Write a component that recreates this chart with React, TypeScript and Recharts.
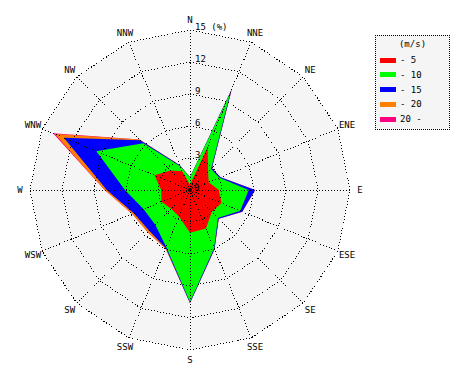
import React from 'react';
import { RadarChart, Radar, PolarGrid, PolarAngleAxis, PolarRadiusAxis, Legend } from 'recharts';

const DIRECTIONS = ['N', 'NNE', 'NE', 'ENE', 'E', 'ESE', 'SE', 'SSE', 'S', 'SSW', 'SW', 'WSW', 'W', 'WNW', 'NW', 'NNW'];
// cumulative frequency (%) by wind speed class
const UP_TO_5 = [0.5, 4.3, 2.4, 1.9, 2.7, 3.2, 2.9, 3.9, 4.0, 2.7, 2.5, 2.9, 2.7, 3.6, 2.6, 1.9];
const UP_TO_10 = [1.2, 9.9, 2.8, 3.0, 5.5, 5.1, 3.7, 5.9, 10.5, 5.8, 4.6, 4.7, 6.1, 9.5, 6.2, 2.4];
const UP_TO_15 = [1.2, 10.2, 2.9, 3.1, 6.1, 5.3, 3.8, 6.0, 10.6, 5.9, 5.4, 5.7, 7.8, 12.8, 6.6, 2.5];
const UP_TO_20 = [1.2, 10.2, 2.9, 3.1, 6.1, 5.3, 3.8, 6.0, 10.6, 5.95, 5.6, 5.85, 8.0, 13.7, 6.7, 2.5];
const ALL_SPEEDS = [1.2, 10.2, 2.9, 3.1, 6.1, 5.3, 3.8, 6.0, 10.6, 5.95, 5.6, 5.85, 8.0, 13.9, 6.7, 2.5];

const SERIES_KEYS = ['s5', 's10', 's15', 's20', 'sAll'];
const SERIES_VALUES = [UP_TO_5, UP_TO_10, UP_TO_15, UP_TO_20, ALL_SPEEDS];
const LEGEND_LABELS = ['- 5', '- 10', '- 15', '- 20', '20 -'];
const COLORS = ['#ff0000', '#00ff00', '#0000ff', '#ff8000', '#ff0080'];
const LEGEND_TITLE = '(m/s)';
const RADIUS_TICKS = [0, 3, 6, 9, 12, 15];
const RADIUS_MAX = 15;
const UNIT = '(%)';

const data = DIRECTIONS.map((dir, i) => {
  const row: Record<string, any> = { dir };
  SERIES_KEYS.forEach((k, j) => {
    row[k] = SERIES_VALUES[j][i];
  });
  return row;
});

const FONT = '"DejaVu Sans Mono", monospace';

const AngleTick = (props: any) => {
  const { x, y, payload } = props;
  return (
    <text x={x} y={y} textAnchor="middle" dominantBaseline="central" fontFamily={FONT} fontSize={9} fill="#000">
      {payload.value}
    </text>
  );
};

const RadiusTick = (props: any) => {
  const { x, y, payload } = props;
  const v = payload.value;
  if (v === 0) {
    return (
      <g>
        <circle cx={x} cy={y} r={2} fill="#000" />
        <text x={x + 4} y={y - 2} textAnchor="start" dominantBaseline="central" fontFamily={FONT} fontSize={9} fill="#000">
          {v}
        </text>
      </g>
    );
  }
  return (
    <text x={x + 5} y={y - 3} textAnchor="start" dominantBaseline="central" fontFamily={FONT} fontSize={9} fill="#000">
      {v === RADIUS_MAX ? `${v} ${UNIT}` : v}
    </text>
  );
};

const LegendBox = () => (
  <div
    style={{
      width: 75,
      height: 95,
      border: '1px dotted #000',
      background: '#f5f5f5',
      fontFamily: FONT,
      fontSize: 9,
      color: '#000',
      boxSizing: 'border-box',
      position: 'relative',
    }}
  >
    <div style={{ position: 'absolute', left: 0, width: '100%', top: 3, textAlign: 'center', lineHeight: '11px' }}>
      {LEGEND_TITLE}
    </div>
    {LEGEND_LABELS.map((label, i) => (
      <div key={label} style={{ position: 'absolute', left: 4, top: 18 + i * 14.8, height: 12, display: 'flex', alignItems: 'center' }}>
        <span style={{ display: 'inline-block', width: 16, height: 5, background: COLORS[i], marginRight: 4 }} />
        <span style={{ lineHeight: '12px' }}>{label}</span>
      </div>
    ))}
  </div>
);

export default function App() {
  return (
    <div style={{ width: 470, height: 380, position: 'relative', background: '#fff' }}>
      <RadarChart
        width={470}
        height={380}
        data={data}
        cx={182}
        cy={182}
        outerRadius={160}
        margin={{ top: 0, right: 0, bottom: 0, left: 0 }}
      >
        <Radar
          dataKey={() => RADIUS_MAX}
          fill="#f5f5f5"
          fillOpacity={1}
          stroke="none"
          isAnimationActive={false}
          dot={false}
          legendType="none"
        />
        {SERIES_KEYS.map((k, i) => i).reverse().map((i) => (
          <Radar
            key={SERIES_KEYS[i]}
            dataKey={SERIES_KEYS[i]}
            name={LEGEND_LABELS[i]}
            fill={COLORS[i]}
            fillOpacity={1}
            stroke="none"
            isAnimationActive={false}
            dot={false}
          />
        ))}
        <PolarGrid
          gridType="polygon"
          stroke="#000"
          strokeWidth={1}
          strokeDasharray="1 2"
          shapeRendering="crispEdges"
          zIndex={1500}
        />
        <PolarAngleAxis dataKey="dir" tick={<AngleTick />} tickLine={false} axisLine={false} tickSize={10} />
        <PolarRadiusAxis
          angle={90}
          type="number"
          domain={[0, RADIUS_MAX]}
          ticks={RADIUS_TICKS}
          tick={<RadiusTick />}
          tickLine={false}
          axisLine={false}
          tickCount={RADIUS_TICKS.length}
        />
        <Legend
          content={() => <LegendBox />}
          layout="vertical"
          wrapperStyle={{ position: 'absolute', left: 367, top: 27, width: 75 }}
        />
      </RadarChart>
    </div>
  );
}
